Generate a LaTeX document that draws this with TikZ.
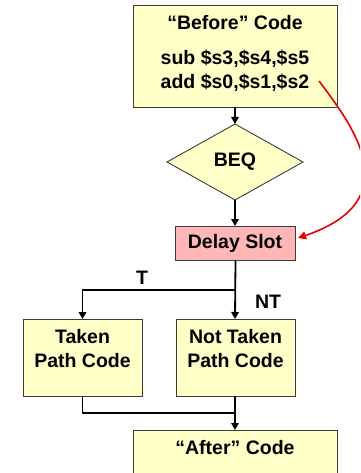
\documentclass[tikz,border=0pt]{standalone}
\usepackage{fontspec}
\setmainfont{Liberation Sans}
\usetikzlibrary{arrows.meta,shapes.geometric}
\definecolor{boxyellow}{RGB}{255,255,200}
\definecolor{boxpink}{RGB}{255,182,182}
\definecolor{boxline}{RGB}{60,60,60}
\definecolor{arrred}{RGB}{230,0,0}
\tikzset{
  codebox/.style={draw=boxline, line width=0.9pt, fill=boxyellow, inner sep=0pt, outer sep=0pt},
  pinkbox/.style={draw=boxline, line width=0.9pt, fill=boxpink, inner sep=0pt, outer sep=0pt},
  decision/.style={diamond, draw=boxline, line width=0.9pt, fill=boxyellow, inner sep=0pt, outer sep=0pt, aspect=1.79},
  lbl/.style={font=\fontsize{19.5}{24}\selectfont\bfseries, inner sep=0pt, align=center},
  flow/.style={line width=1.8pt, -{Triangle[length=7pt,width=7.5pt]}},
  plain/.style={line width=1.8pt},
  redarrow/.style={line width=1.6pt, draw=arrred, -{Triangle[length=8pt,width=8pt]}, arrred}
}
\begin{document}
\begin{tikzpicture}[x=1pt,y=-1pt]
\useasboundingbox (0,0) rectangle (360,473);
\clip (0,0) rectangle (360,473);
% boxes
\node[codebox, minimum width=204pt, minimum height=102pt] (before) at (235,56) {};
\node[lbl] (beforet) at (235,23) {“Before” Code};
\node[lbl] (beforec) at (235,71) {sub \$s3,\$s4,\$s5\\add \$s0,\$s1,\$s2};
\node[decision, minimum width=136pt, minimum height=76pt] (beq) at (235,162) {};
\node[lbl] (beqt) at (235,162) {BEQ};
\node[pinkbox, minimum width=120pt, minimum height=34pt] (delay) at (235,243) {};
\node[lbl] (delayt) at (235,243) {Delay Slot};
\node[codebox, minimum width=119pt, minimum height=77pt] (taken) at (82.5,357.5) {};
\node[lbl] (takent) at (82.5,349) {Taken\\Path Code};
\node[codebox, minimum width=119pt, minimum height=77pt] (ntaken) at (235.5,357.5) {};
\node[lbl] (ntakent) at (235.5,349) {Not Taken\\Path Code};
\node[codebox, minimum width=204pt, minimum height=44pt] (after) at (235,452) {};
\node[lbl] (aftert) at (235,448) {“After” Code};
\node[lbl] (tlab) at (142,278) {T};
\node[lbl] (ntlab) at (268,302) {NT};
% connectors
\coordinate (split) at (235,290);
\coordinate (merge) at (235,413);
\draw[flow] (before.south -| beq.north) -- (beq.north);
\draw[flow] (beq.south) -- (delay.north);
\draw[flow] (delay.south -| ntaken.north) -- (ntaken.north -| delay.south);
\draw[flow] (split) -| (taken.north);
\draw[plain] (taken.south) |- (merge);
\draw[flow] (ntaken.south -| after.north) -- (after.north);
% red arrow
\coordinate (redstart) at (319,81);
\coordinate (redend) at (298,238);
\draw[redarrow] (redstart) .. controls (352,125) and (410,200) .. (redend);
\end{tikzpicture}
\end{document}
